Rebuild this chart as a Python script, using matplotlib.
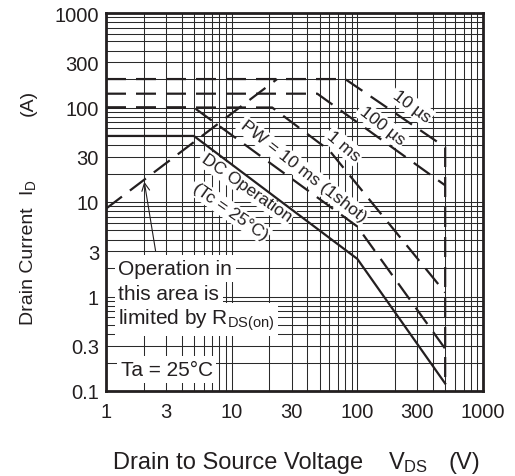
import matplotlib
matplotlib.use("Agg")
import matplotlib.pyplot as plt

plt.rcParams['font.family'] = ['Liberation Sans', 'DejaVu Sans']
plt.rcParams['mathtext.default'] = 'regular'

# safe operating area curves (V_DS in V, I_D in A)
dc_v = [1, 5, 100, 500]
dc_i = [50, 50, 2.5, 0.12]
pw10ms_v = [1, 5, 100, 500]
pw10ms_i = [100, 100, 5.5, 0.28]
pw1ms_v = [1, 21, 60, 500]
pw1ms_i = [100, 100, 35, 1.1]
pw100us_v = [1, 48, 500]
pw100us_i = [140, 140, 15]
pw10us_v = [1, 80, 500, 500]
pw10us_i = [200, 200, 38, 0.12]
rds_v = [1, 23]
rds_i = [8.5, 200]

x_ticks = [1, 3, 10, 30, 100, 300, 1000]
x_labels = ['1', '3', '10', '30', '100', '300', '1000']
y_ticks = [0.1, 0.3, 1, 3, 10, 30, 100, 300, 1000]
y_labels = ['0.1', '0.3', '1', '3', '10', '30', '100', '300', '1000']

W, H = 515, 477
fig = plt.figure(figsize=(W / 100, H / 100), dpi=100)
ax = fig.add_axes([106 / W, 1 - 392 / H, 377 / W, 378 / H])
ax.set_xscale('log')
ax.set_yscale('log')
ax.set_xlim(1, 1000)
ax.set_ylim(0.1, 1000)

# full log grid (1..9 in every decade)
x_minor = [k * 10 ** d for d in range(0, 3) for k in range(1, 10)]
y_minor = [k * 10.0 ** d for d in range(-1, 3) for k in range(1, 10)]
ax.set_xticks(x_ticks)
ax.set_xticklabels(x_labels)
ax.set_yticks(y_ticks)
ax.set_yticklabels(y_labels)
ax.set_xticks(x_minor, minor=True)
ax.set_yticks(y_minor, minor=True)
ax.tick_params(which='both', length=0, labelsize=14.5, colors='#231f20')
ax.tick_params(axis='x', pad=8)
ax.tick_params(axis='y', pad=5)
ax.grid(which='both', color='#2a2a2a', lw=0.75, zorder=0)
ax.set_axisbelow(True)
for s in ax.spines.values():
    s.set_linewidth(2)
    s.set_color('#231f20')

ink = '#231f20'
dash = (0, (9, 4.5))
ax.plot(dc_v, dc_i, color=ink, lw=1.6, zorder=3)
ax.plot(pw10ms_v, pw10ms_i, color=ink, lw=1.6, linestyle=dash, zorder=3)
ax.plot(pw1ms_v, pw1ms_i, color=ink, lw=1.6, linestyle=dash, zorder=3)
ax.plot(pw100us_v, pw100us_i, color=ink, lw=1.6, linestyle=dash, zorder=3)
ax.plot(pw10us_v, pw10us_i, color=ink, lw=1.6, linestyle=dash, zorder=3)
ax.plot(rds_v, rds_i, color=ink, lw=1.6, linestyle=dash, zorder=3)

# curve labels, white box hides the grid behind them
box = dict(facecolor='white', edgecolor='none', pad=1.5)
lab = dict(fontsize=12.5, ha='center', va='center', rotation_mode='anchor',
           zorder=2.5, color=ink, bbox=box)
ax.text(270, 104, '10 µs', rotation=-37, **lab)
ax.text(157, 65, '100 µs', rotation=-38, **lab)
ax.text(78, 39, '1 ms', rotation=-40, **lab)
ax.text(37, 21.3, 'PW = 10 ms (1shot)', rotation=-38, **lab)
ax.text(13.1, 14.2, 'DC Operation', rotation=-35, **lab)
ax.text(9.7, 8.0, '(Tc = 25°C)', rotation=-35, **lab)

# rds(on) note
note = dict(fontsize=15, ha='left', va='baseline', zorder=2.5, color=ink,
            bbox=dict(facecolor='white', edgecolor='none', pad=2.5))
ax.text(1.25, 1.73, 'Operation in', **note)
ax.text(1.25, 0.94, 'this area is', **note)
ax.text(1.25, 0.512, r'limited by R$_{DS(on)}$', **note)
ax.text(1.31, 0.1476, 'Ta = 25°C', **note)
ax.annotate('', xy=(2.0, 17.5), xytext=(2.5, 2.85),
            arrowprops=dict(arrowstyle='->', lw=0.8, color=ink, mutation_scale=14),
            zorder=4)

# axis titles, placed piece by piece like the datasheet
fig.text(113 / W, 1 - 469 / H, 'Drain to Source Voltage', fontsize=17,
         ha='left', va='baseline', color=ink)
fig.text(388 / W, 1 - 469 / H, r'V$_{DS}$', fontsize=17, ha='left', va='baseline', color=ink)
fig.text(448 / W, 1 - 469 / H, '(V)', fontsize=17, ha='left', va='baseline', color=ink)
yl = dict(fontsize=14, rotation=90, rotation_mode='anchor', ha='left',
          va='baseline', color=ink)
fig.text(33 / W, 1 - 325 / H, 'Drain Current', **yl)
fig.text(33 / W, 1 - 196 / H, r'I$_D$', **yl)
fig.text(33 / W, 1 - 116 / H, '(A)', **yl)

fig.savefig('out.png', dpi=100)
